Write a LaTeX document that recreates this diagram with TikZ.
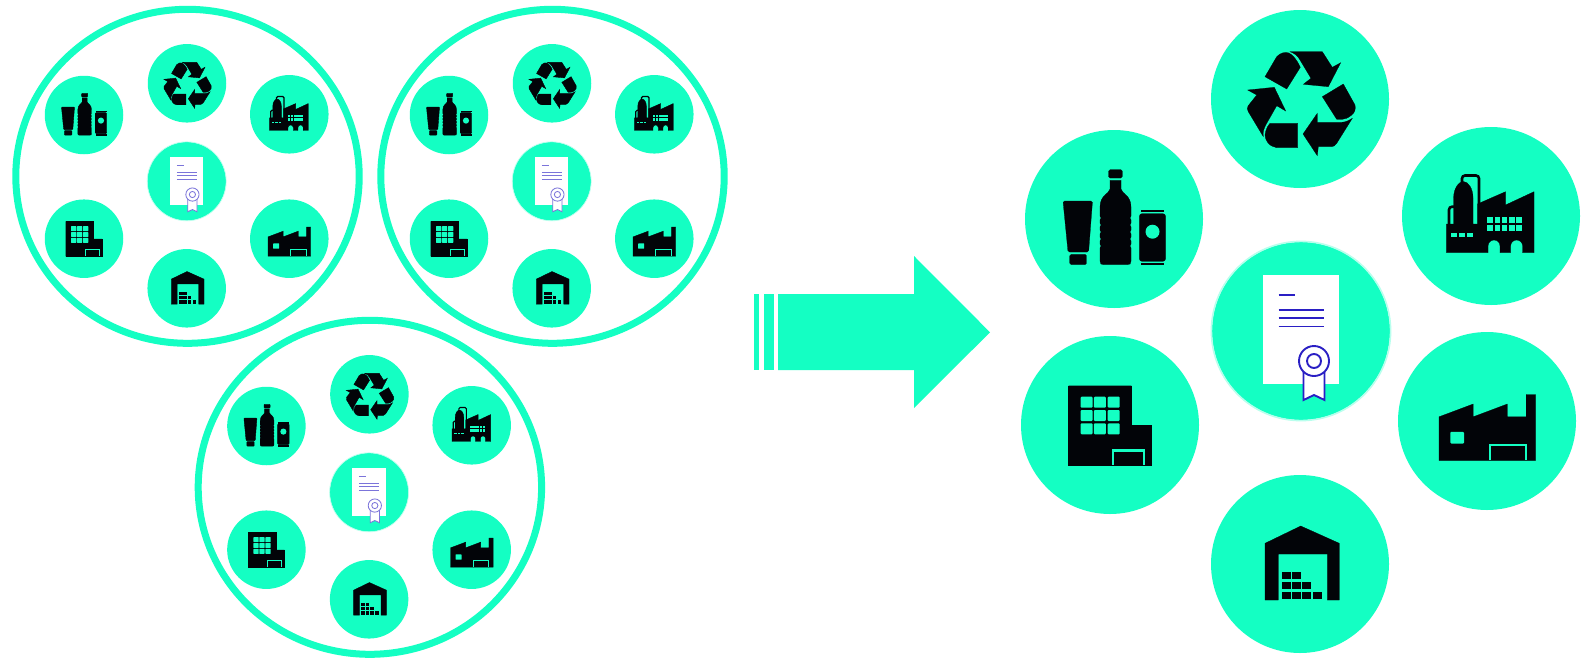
\documentclass[tikz,border=0pt]{standalone}
\definecolor{mint}{HTML}{14FFC3}
\definecolor{inkb}{HTML}{020408}
\definecolor{certb}{HTML}{2A1FC4}
\colorlet{certink}{certb}
\def\inkw{0.25pt}
\tikzset{
  disc/.style={fill=mint},
  ink/.style={fill=inkb,draw=inkb,line width=\inkw},
  hole/.style={fill=mint},
  ring/.style={draw=mint,line width=7pt},
  certline/.style={draw=certink,line width=\s*1.9pt},
  door/.style={draw=mint,line width=\s*2.1pt},
  pipe/.style={draw=inkb,line width=\s*2.6pt,rounded corners=\s*3pt}
}
\def\s{1}
\newcommand\iconbottles{%
  \fill[disc] (0,0) circle[radius=89];
  % tube
  \filldraw[ink,rounded corners=\s*1.5pt] (-51,-18) -- (-21.5,-18) -- (-25.4,33) -- (-46,33) -- cycle;
  \filldraw[ink,rounded corners=\s*1.5pt] (-44.3,35.3) rectangle (-27.6,45.7);
  % bottle
  \filldraw[ink,rounded corners=\s*1.5pt] (-5.4,-49.3) rectangle (8.3,-41);
  \filldraw[ink] (-4,-38.7) -- (7,-38.7) -- (7,-30)
     .. controls (8,-25) and (17,-24) .. (17,-12) -- (17,42)
     .. controls (17,45) and (16,45.7) .. (13,45.7) -- (-10,45.7)
     .. controls (-13,45.7) and (-14,45) .. (-14,42) -- (-14,-12)
     .. controls (-14,-24) and (-5,-25) .. (-4,-30) -- cycle;
  \foreach \yy in {-1,6,13,20,27}{
    \fill[hole] (-15.4,\yy) circle[radius=2];
    \fill[hole] (18.4,\yy) circle[radius=2];
  }
  % can
  \filldraw[ink,rounded corners=\s*2.5pt] (25.4,-5.3) rectangle (51.5,42.3);
  \filldraw[ink] (27.5,-8.9) rectangle (49.5,-7.5);
  \filldraw[ink] (27.5,44) rectangle (49.5,45.4);
  \fill[hole] (38.5,12.7) circle[radius=7];
}
\newcommand\iconrecycle{%
  \fill[disc] (0,0) circle[radius=89];
  % top
  \filldraw[ink] (-35,-22.3) -- (-23.3,-42.3) .. controls (-20,-46) and (-15,-47.5) .. (-11,-46) .. controls (-7,-44) and (-3,-39) .. (0.3,-31.7) -- (-13.3,-10) -- cycle;
  \filldraw[ink] (-10,-47.3) -- (22.3,-47.3) -- (32.3,-31.7) -- (40.7,-36.3) -- (28.3,-12.3) -- (3.3,-14.7) -- (11,-20.7) -- (0,-39) .. controls (-2,-43) and (-6,-46) .. (-10,-47.3) -- cycle;
  % right
  \filldraw[ink] (22.3,-2.3) -- (43.3,-15) -- (55,6) .. controls (56,10) and (54.5,14) .. (51.7,16) .. controls (48,19) and (45,20.3) .. (42.3,20.3) -- (36.7,20.3) -- cycle;
  \filldraw[ink] (52.3,19.3) -- (36.7,44.3) .. controls (35,46.5) and (33.5,47.7) .. (31.7,47.7) -- (18.3,47.7) -- (17.3,56.7) -- (3,35) -- (17.3,14.3) -- (17.3,23.3) -- (41.7,23.3) .. controls (45,23.3) and (49,21.5) .. (52.3,19.3) -- cycle;
  % left
  \filldraw[ink] (-2.3,24.3) -- (-2.3,48.7) -- (-23.3,48.7) .. controls (-26.5,48) and (-30,46.5) .. (-31.7,44.3) .. controls (-34,41) and (-35.5,38) .. (-35,36) .. controls (-34.5,31) and (-32.5,27) .. (-30,24.3) -- cycle;
  \filldraw[ink] (-36.7,37.7) -- (-51.7,12.7) .. controls (-53,10.5) and (-53,9) .. (-52,7) -- (-43.3,-4) -- (-52.3,-9) -- (-25.7,-11.7) -- (-14.3,12) -- (-23.3,6.7) -- (-33.3,24.3) .. controls (-36,29) and (-37.5,33) .. (-36.7,37.7) -- cycle;
}
\newcommand\icontallfactory{%
  \fill[disc] (0,0) circle[radius=89];
  \draw[pipe] (-29,-30) -- (-29,-40.5) -- (-12,-40.5) -- (-12,-12);
  \draw[pipe] (-36,-9.3) -- (-42,-9.3) -- (-42,9);
  \filldraw[ink] (-44.6,36.7) -- (-44.6,8) -- (-37.4,8) -- (-37.4,-18)
     .. controls (-37.4,-28) and (-32,-34.5) .. (-27.7,-34.5)
     .. controls (-23,-34.5) and (-18,-28) .. (-18,-18) -- (-18,8) -- (-13.6,8) -- (-13.6,-12)
     -- (14.5,-24.3) -- (14.5,-11) -- (43,-24.3) -- (43,36.7) -- (31.6,36.7) -- (31.6,30)
     arc[start angle=0,end angle=-180,radius=6] -- (19.6,36.7) -- (9,36.7) -- (9,30)
     arc[start angle=0,end angle=-180,radius=6] -- (-3,36.7) -- cycle;
  \foreach \xx in {0,1,2,3,4}{
    \fill[hole] ({-3.6+\xx*7.2},1.3) rectangle ++(5.6,5.9);
    \fill[hole] ({-3.6+\xx*7.2},9.1) rectangle ++(5.6,5.9);
  }
  \foreach \xx in {0,1,2}{
    \fill[hole] ({-40+\xx*8},16.7) rectangle ++(6.2,4);
  }
}
\newcommand\iconcert{%
  \fill[disc] (0,0) circle[radius=89];
  \draw[draw=mint!30,line width=\s*1.6pt] (0,0) circle[radius=89.6];
  \fill[white] (-38,-56) rectangle (38,53);
  \draw[certline] (-22.5,-36.3) -- (-6.5,-36.3);
  \draw[certline] (-22.5,-21) -- (23,-21);
  \draw[certline] (-22.5,-12.7) -- (23,-12.7);
  \draw[certline] (-22.5,-4.5) -- (23,-4.5);
  \draw[certline,fill=white] (2.5,40) -- (2.5,69) -- (13,64) -- (23.5,69) -- (23.5,40);
  \draw[certline,fill=white] (13,30) circle[radius=15];
  \draw[certline] (13,30) circle[radius=7];
}
\newcommand\iconoffice{%
  \fill[disc] (0,0) circle[radius=89];
  \filldraw[ink] (-41.4,-39.3) -- (21.4,-39.3) -- (21.4,0.3) -- (41,0.3) -- (41,40) -- (-41.4,40) -- cycle;
  \foreach \xx in {-29.4,-16.1,-2.3}{
    \foreach \yy in {-28.3,-15,-1.7}{
      \fill[hole,rounded corners=\s*1pt] (\xx,\yy) rectangle ++(12,11);
    }
  }
  \draw[door] (2.8,39.5) -- (2.8,25.5) -- (34,25.5) -- (34,39.5);
}
\newcommand\iconfactory{%
  \fill[disc] (0,0) circle[radius=89];
  \filldraw[ink] (-48,-4.2) -- (-13.8,-17) -- (-13.8,-4.2) -- (20.3,-17) -- (20.3,-4.2) -- (39.2,-4.2) -- (39.2,-26.5) -- (48.6,-26.5) -- (48.6,39.5) -- (-48,39.5) -- cycle;
  \fill[hole,rounded corners=\s*1pt] (-36.7,10.8) rectangle (-23,22.5);
  \draw[door] (3,39) -- (3,23.8) -- (38.8,23.8) -- (38.8,39);
}
\newcommand\iconwarehouse{%
  \fill[disc] (0,0) circle[radius=89];
  \filldraw[ink] (-35,-20.7) -- (0.7,-38) -- (39.3,-20.7) -- (39.3,36) -- (27.3,36) -- (27.3,-10) -- (-21.7,-10) -- (-21.7,36) -- (-35,36) -- cycle;
  \foreach \xx/\yy in {-17.7/7.5,-7.7/7.5,-17.7/17.5,-7.7/17.5,2.3/17.5,-17.7/27.5,-7.7/27.5,2.3/27.5,13.3/27.5}{
    \fill[inkb] (\xx,\yy) rectangle ++(8.4,7);
  }
}
\newcommand\placeicon[4]{%
  \begin{scope}[shift={(#1,#2)},scale=#3]
    \def\s{#3}%
    \csname icon#4\endcsname
  \end{scope}}
\newcommand\cluster[2]{%
  \begin{scope}[shift={(#1,#2)}]
    \colorlet{certink}{certb!62!white}%
    \def\inkw{0.4pt}%
    \draw[ring] (187.5,176.3) ellipse[x radius=171.7,y radius=167];
    \placeicon{84}{115}{0.441}{bottles}
    \placeicon{187}{83.3}{0.441}{recycle}
    \placeicon{289.3}{114.3}{0.441}{tallfactory}
    \placeicon{186.7}{181.3}{0.441}{cert}
    \placeicon{84}{238.7}{0.441}{office}
    \placeicon{289.3}{238.7}{0.441}{factory}
    \placeicon{186.7}{288.3}{0.441}{warehouse}
  \end{scope}}
\begin{document}
\begin{tikzpicture}[x=1pt,y=-1pt]
  \useasboundingbox (0,0) rectangle (1589,659);
  \fill[white] (0,0) rectangle (1589,659);
  \cluster{0}{0}
  \cluster{365}{0}
  \cluster{182.4}{311}
  % arrow
  \fill[mint] (754.3,294) rectangle (759,370);
  \fill[mint] (764,294) rectangle (773.7,370);
  \fill[mint] (778,294) -- (914,294) -- (914,256) -- (990,332.3) -- (914,408) -- (914,370) -- (778,370) -- cycle;
  % large group
  \placeicon{1300}{99}{1}{recycle}
  \placeicon{1114}{219}{1}{bottles}
  \placeicon{1491}{216}{1}{tallfactory}
  \placeicon{1301}{331}{1}{cert}
  \placeicon{1110}{425}{1}{office}
  \placeicon{1487}{421}{1}{factory}
  \placeicon{1300}{564}{1}{warehouse}
\end{tikzpicture}
\end{document}
